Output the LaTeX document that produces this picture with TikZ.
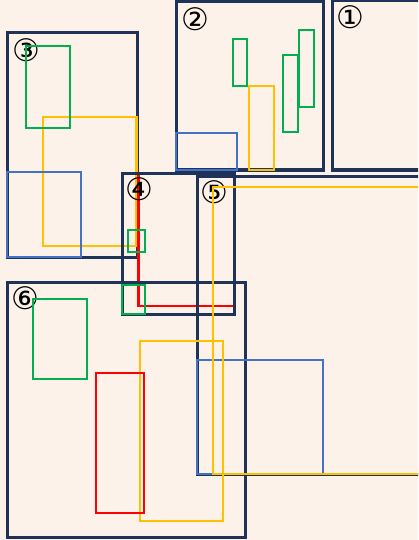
\documentclass[tikz,border=0pt]{standalone}
\usepackage{fontspec}
\newfontfamily\numfont{DejaVu Sans}
\definecolor{pagebg}{RGB}{252,242,234}
\definecolor{framenavy}{RGB}{31,50,88}
\definecolor{boxgreen}{RGB}{0,176,80}
\definecolor{boxyellow}{RGB}{255,192,0}
\definecolor{boxred}{RGB}{255,0,0}
\definecolor{boxblue}{RGB}{68,114,196}

\begin{document}
\begin{tikzpicture}[
  x = 1pt, y = -1pt,
  frame/.style   = {draw=framenavy, line width=3pt},
  greenbox/.style  = {draw=boxgreen, line width=2.8pt},
  yellowbox/.style = {draw=boxyellow, line width=2.8pt},
  redbox/.style    = {draw=boxred, line width=2.8pt},
  bluebox/.style   = {draw=boxblue, line width=2.8pt},
  num/.style     = {font=\numfont\fontsize{31}{31}\selectfont, inner sep=0pt}
]

% Page
\useasboundingbox (0,0) rectangle (418,540);
\fill[pagebg] (0,0) rectangle (418,540);
\clip (0,0) rectangle (418,540);

% Frames 1-3
\draw[frame] (332,1)   rectangle (430,170);
\draw[frame] (176,2)   rectangle (323,170);
\draw[frame] (7,33)    rectangle (137,257);

% Yellow and red between the frames
\draw[yellowbox] (43,117)  rectangle (136.5,246);
\draw[redbox] (138.8,173) rectangle (234,306);

% Frames 4-6
\draw[frame] (122,173) rectangle (234,314);
\draw[frame] (7,282)   rectangle (245,537);
\draw[frame] (197,176) rectangle (430,474);

% Numbers
\node[num] (one)   at (350,17)  {①};
\node[num] (two)   at (195,19)  {②};
\node[num] (three) at (26,50)   {③};
\node[num] (four)  at (139,189) {④};
\node[num] (five)  at (214,192) {⑤};
\node[num] (six)   at (25,298)  {⑥};

% Blue
\draw[bluebox] (7,172)   rectangle (81,257);
\draw[bluebox] (176,133) rectangle (237,170);
\draw[bluebox] (197,360) rectangle (323,474);

% Green
\draw[greenbox] (26,46)   rectangle (70,128);
\draw[greenbox] (233,39)  rectangle (247,86);
\draw[greenbox] (283,55)  rectangle (298,132);
\draw[greenbox] (299,30)  rectangle (314,107);
\draw[greenbox] (33,299)  rectangle (87,379);

% Yellow
\draw[yellowbox] (249,86)  rectangle (274,170);
\draw[yellowbox] (213,187) rectangle (430,474);
\draw[yellowbox] (140,341) rectangle (223,521);

% Red
\draw[redbox] (96,373)  rectangle (144,513);

% Green on top
\draw[greenbox] (128,230) rectangle (145,252);
\draw[greenbox] (122,285) rectangle (145,314);

\end{tikzpicture}
\end{document}
